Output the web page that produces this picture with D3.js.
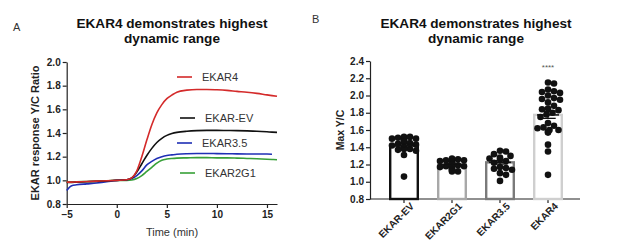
<!DOCTYPE html>
<html lang="en">
<head>
<meta charset="UTF-8">
<title>EKAR4 dynamic range</title>
<script src="https://d3js.org/d3.v7.min.js"></script>
<style>
  body { margin: 0; background: #fff; }
  svg { font-family: Arial, "Liberation Sans", sans-serif; }
  .title { font-size: 13.6px; font-weight: bold; fill: #111; text-anchor: middle; }
  .tick text { font-size: 10px; font-weight: bold; fill: #222; }
  .domain, .tick line { stroke: #222; stroke-width: 1.2px; }
</style>
</head>
<body>
<svg width="617" height="246"></svg>
<script>
// ---- panel A: time course ----
const times  = [-5, -4.5, -4, -3, -2, -1, 0, 1, 1.5, 2, 2.5, 3, 3.5, 4, 4.5, 5, 5.5, 6, 7, 8, 9, 10, 11, 12, 13, 14, 15, 15.5, 16];
const ekar4  = [0.985, 0.985, 0.987, 0.99, 0.993, 0.996, 1.0, 1.005, 1.02, 1.08, 1.2, 1.34, 1.47, 1.57, 1.64, 1.69, 1.72, 1.745, 1.762, 1.768, 1.768, 1.765, 1.76, 1.752, 1.745, 1.735, 1.722, 1.716, 1.71];
const ekarEV = [0.982, 0.983, 0.985, 0.988, 0.991, 0.995, 1.0, 1.005, 1.02, 1.07, 1.14, 1.21, 1.27, 1.32, 1.355, 1.38, 1.395, 1.405, 1.415, 1.42, 1.422, 1.422, 1.421, 1.42, 1.418, 1.415, 1.41, 1.407, 1.405];
const ekar35 = [0.915, 0.955, 0.962, 0.97, 0.978, 0.988, 1.0, 1.005, 1.015, 1.04, 1.08, 1.13, 1.16, 1.185, 1.2, 1.21, 1.215, 1.22, 1.225, 1.227, 1.227, 1.226, 1.225, 1.224, 1.223, 1.222, 1.222, 1.221, null];
const ekar2g = [0.985, 0.986, 0.988, 0.99, 0.993, 0.996, 1.0, 1.0, 1.003, 1.015, 1.04, 1.075, 1.11, 1.145, 1.17, 1.18, 1.185, 1.188, 1.19, 1.192, 1.192, 1.19, 1.19, 1.188, 1.185, 1.182, 1.178, 1.176, 1.174];
const xTicksA = [-5, 0, 5, 10, 15];
const yTicksA = [0.8, 1.0, 1.2, 1.4, 1.6, 1.8, 2.0];

// ---- panel B: max Y/C per sensor ----
const sensors = ["EKAR-EV", "EKAR2G1", "EKAR3.5", "EKAR4"];
const means   = [1.42, 1.20, 1.225, 1.775];
const sems    = [0.02, 0.01, 0.02, 0.04];
const ptsEV   = [1.52, 1.52, 1.51, 1.50, 1.50, 1.49, 1.48, 1.47, 1.46, 1.45, 1.44, 1.43, 1.42, 1.40, 1.39, 1.38, 1.38, 1.37, 1.36, 1.31, 1.06];
const pts2G1  = [1.27, 1.26, 1.25, 1.25, 1.24, 1.23, 1.23, 1.22, 1.22, 1.21, 1.20, 1.20, 1.19, 1.18, 1.18, 1.17, 1.16, 1.15, 1.14, 1.13, 1.12, 1.12];
const pts35   = [1.36, 1.35, 1.32, 1.30, 1.28, 1.27, 1.26, 1.24, 1.22, 1.17, 1.16, 1.15, 1.14, 1.10, 1.08, 1.01];
const pts4    = [2.15, 2.14, 2.07, 2.05, 2.04, 2.03, 2.00, 1.97, 1.96, 1.95, 1.92, 1.88, 1.85, 1.84, 1.83, 1.80, 1.78, 1.75, 1.68, 1.65, 1.63, 1.62, 1.60, 1.60, 1.58, 1.57, 1.43, 1.35, 1.08];
const yTicksB = [0.8, 1.0, 1.2, 1.4, 1.6, 1.8, 2.0, 2.2, 2.4];

const svg = d3.select("svg");

// panel letters + titles
svg.append("text").attr("x", 13).attr("y", 31).attr("font-size", 11).attr("fill", "#333").text("A");
svg.append("text").attr("x", 312).attr("y", 23).attr("font-size", 11).attr("fill", "#333").text("B");
[172, 476].forEach(cx => {
  const t = svg.append("text").attr("class", "title").attr("x", cx).attr("y", 28);
  t.append("tspan").attr("x", cx).text("EKAR4 demonstrates highest");
  t.append("tspan").attr("x", cx).attr("dy", 14.5).text("dynamic range");
});

// ===== panel A =====
const xA = d3.scaleLinear().domain([-5, 16]).range([66.7, 277]);
const yA = d3.scaleLinear().domain([0.8, 2.0]).range([204, 62]);
const gA = svg.append("g");

gA.append("g").attr("transform", "translate(0,204)")
  .call(d3.axisBottom(xA).tickValues(xTicksA).tickSize(4).tickPadding(3).tickSizeOuter(0));
gA.append("g").attr("transform", "translate(66.7,0)")
  .call(d3.axisLeft(yA).tickValues(yTicksA).tickFormat(d3.format(".1f")).tickSize(4).tickPadding(2).tickSizeOuter(0));

gA.append("text").attr("x", 172).attr("y", 236).attr("text-anchor", "middle")
  .attr("font-size", 11).attr("fill", "#333").text("Time (min)");
gA.append("text").attr("transform", "translate(39,133) rotate(-90)").attr("text-anchor", "middle")
  .attr("font-size", 11).attr("font-weight", "bold").attr("fill", "#222").text("EKAR response Y/C Ratio");

const series = [
  { name: "EKAR4",   vals: ekar4,  color: "#d42a2a", lx: 177, ly: 77 },
  { name: "EKAR-EV", vals: ekarEV, color: "#111111", lx: 180, ly: 118 },
  { name: "EKAR3.5", vals: ekar35, color: "#1f2fb5", lx: 177, ly: 143 },
  { name: "EKAR2G1", vals: ekar2g, color: "#38a038", lx: 180, ly: 173 }
];
const line = d3.line()
  .defined(d => d[1] != null)
  .x(d => xA(d[0])).y(d => yA(d[1]))
  .curve(d3.curveMonotoneX);

// draw green first so red/black sit on top
[3, 2, 1, 0].forEach(i => {
  const s = series[i];
  gA.append("path").datum(times.map((t, k) => [t, s.vals[k]]))
    .attr("d", line).attr("fill", "none").attr("stroke", s.color).attr("stroke-width", 1.6);
});
series.forEach(s => {
  gA.append("line").attr("x1", s.lx).attr("x2", s.lx + 15).attr("y1", s.ly).attr("y2", s.ly)
    .attr("stroke", s.color).attr("stroke-width", 1.6);
  gA.append("text").attr("x", s.lx + 25).attr("y", s.ly + 4).attr("font-size", 11)
    .attr("fill", "#333").text(s.name);
});

// ===== panel B =====
const xB = d3.scaleBand().domain(sensors).range([380, 572]).paddingInner(0.375).paddingOuter(0.1875);
const yB = d3.scaleLinear().domain([0.8, 2.4]).range([199, 61]);
const gB = svg.append("g");

gB.append("g").attr("transform", "translate(370,0)")
  .call(d3.axisLeft(yB).tickValues(yTicksB).tickFormat(d3.format(".1f")).tickSize(4).tickPadding(2).tickSizeOuter(0));
gB.append("line").attr("x1", 370).attr("x2", 580).attr("y1", 199).attr("y2", 199)
  .attr("stroke", "#222").attr("stroke-width", 1.2);
const xAxisB = gB.append("g").attr("transform", "translate(0,199)")
  .call(d3.axisBottom(xB).tickSize(4).tickSizeOuter(0));
xAxisB.select(".domain").remove();
xAxisB.selectAll(".tick text")
  .attr("text-anchor", "end").attr("dx", "0.2em").attr("dy", "0.6em")
  .attr("transform", "rotate(-45)").attr("font-size", 10);

gB.append("text").attr("transform", "translate(344,130) rotate(-90)").attr("text-anchor", "middle")
  .attr("font-size", 10.5).attr("font-weight", "bold").attr("fill", "#222").text("Max Y/C");

const barColors = ["#111111", "#a8a8a8", "#7a7a7a", "#cfcfcf"];
sensors.forEach((s, i) => {
  gB.append("rect")
    .attr("x", xB(s) + 1.2).attr("width", xB.bandwidth() - 2.4)
    .attr("y", yB(means[i])).attr("height", yB(0.8) - yB(means[i]))
    .attr("fill", "#fff").attr("stroke", barColors[i]).attr("stroke-width", 2.4);
});

// beeswarm placement: sorted by value, step outward from bar centre until free
const groups = [ptsEV, pts2G1, pts35, pts4];
const r = 3.3;
groups.forEach((vals, gi) => {
  const cx = xB(sensors[gi]) + xB.bandwidth() / 2;
  const placed = [];
  vals.slice().sort(d3.descending).forEach(v => {
    const cy = yB(v);
    let off = 0;
    for (let k = 0; k < 40; k++) {
      const cand = k === 0 ? 0 : (k % 2 ? 1 : -1) * Math.ceil(k / 2) * 1.5;
      if (Math.abs(cand) > 14) break;
      const ok = placed.every(p => (p.x - (cx + cand)) ** 2 + (p.y - cy) ** 2 >= (1.8 * r) ** 2);
      if (ok) { off = cand; break; }
    }
    placed.push({ x: cx + off, y: cy });
  });
  gB.selectAll(null).data(placed).join("circle")
    .attr("cx", d => d.x).attr("cy", d => d.y).attr("r", r).attr("fill", "#111");

  // mean line + sem
  const m = means[gi], e = sems[gi];
  const w = 11;
  gB.append("line").attr("x1", cx - w).attr("x2", cx + w).attr("y1", yB(m)).attr("y2", yB(m))
    .attr("stroke", "#111").attr("stroke-width", 1.5);
  [m - e, m + e].forEach(v => gB.append("line").attr("x1", cx - w * 0.7).attr("x2", cx + w * 0.7)
    .attr("y1", yB(v)).attr("y2", yB(v)).attr("stroke", "#111").attr("stroke-width", 1.3));
  gB.append("line").attr("x1", cx).attr("x2", cx).attr("y1", yB(m - e)).attr("y2", yB(m + e))
    .attr("stroke", "#111").attr("stroke-width", 1.3);
});

gB.append("text").attr("x", xB("EKAR4") + xB.bandwidth() / 2).attr("y", 70)
  .attr("text-anchor", "middle").attr("font-size", 8).attr("fill", "#555").text("****");
</script>
</body>
</html>
